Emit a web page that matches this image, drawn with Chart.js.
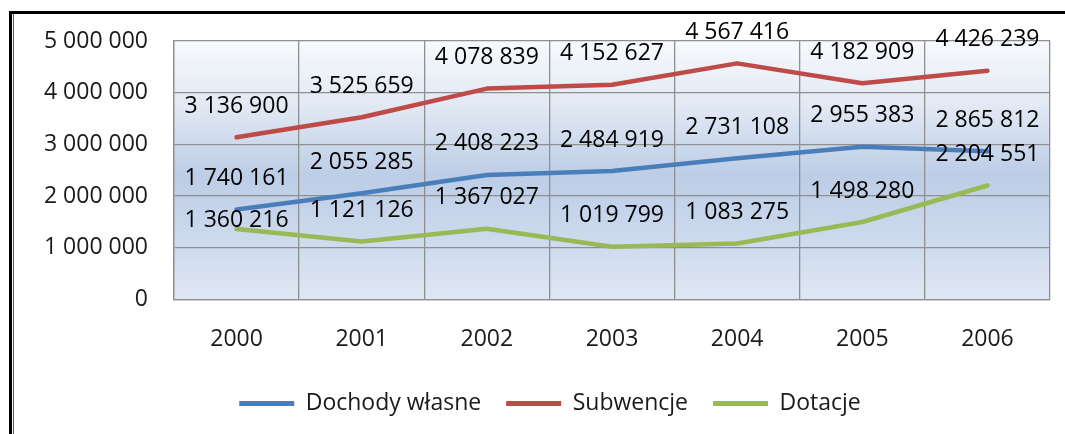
<!DOCTYPE html>
<html>
<head>
<meta charset="utf-8">
<script src="https://cdn.jsdelivr.net/npm/chart.js@4/dist/chart.umd.min.js"></script>
<style>
  html, body { margin: 0; padding: 0; background: #fff; overflow: hidden; }
  #wrap { position: relative; width: 1065px; height: 434px; }
  #frame { position: absolute; left: 9px; top: 11px; width: 1070px; height: 440px;
           border-top: 3px solid #000; border-left: 3px solid #000; box-sizing: border-box; }
  #frame2 { position: absolute; left: 13px; top: 14px; width: 1px; height: 430px; background: #555; }
</style>
</head>
<body>
<div id="wrap">
  <canvas id="chart" width="1065" height="434"></canvas>
  <div id="frame"></div>
  <div id="frame2"></div>
</div>
<script>
const years = ['2000', '2001', '2002', '2003', '2004', '2005', '2006'];
const dochodyWlasne = [1740161, 2055285, 2408223, 2484919, 2731108, 2955383, 2865812];
const subwencje = [3136900, 3525659, 4078839, 4152627, 4567416, 4182909, 4426239];
const dotacje = [1360216, 1121126, 1367027, 1019799, 1083275, 1498280, 2204551];

const FONT = "'Open Sans', 'DejaVu Sans', sans-serif";

// liczby ze spacją jako separatorem tysięcy
function fmt(v) {
    return String(v).replace(/\B(?=(\d{3})+(?!\d))/g, ' ');
}

// tło obszaru wykresu - gradient jak w Excelu
const plotBg = {
    id: 'plotBg',
    beforeDraw(chart) {
        const { ctx, chartArea: a } = chart;
        const g = ctx.createLinearGradient(0, a.top, 0, a.bottom);
        g.addColorStop(0, '#f7f9fc');
        g.addColorStop(0.25, '#e2e9f4');
        g.addColorStop(0.52, '#bccde6');
        g.addColorStop(0.8, '#cfdbee');
        g.addColorStop(1, '#dfe7f3');
        ctx.save();
        ctx.fillStyle = g;
        ctx.fillRect(a.left, a.top, a.right - a.left, a.bottom - a.top);
        ctx.restore();
    }
};

// legenda przesunięta trochę w prawo
const legendShift = {
    id: 'legendShift',
    afterLayout(chart) {
        if (chart.legend) chart.legend.left += 50;
    }
};

// etykiety wartości nad punktami
const valueLabels = {
    id: 'valueLabels',
    afterDatasetsDraw(chart, args, opts) {
        const ctx = chart.ctx;
        ctx.save();
        ctx.font = opts.size + 'px ' + FONT;
        ctx.fillStyle = '#000';
        ctx.textAlign = 'center';
        ctx.textBaseline = 'middle';
        chart.data.datasets.forEach((ds, i) => {
            const meta = chart.getDatasetMeta(i);
            meta.data.forEach((pt, j) => {
                const key = i + '-' + j;
                const dy = opts.nudge[key] !== undefined ? opts.nudge[key] : opts.offset;
                ctx.fillText(fmt(ds.data[j]), pt.x, pt.y - dy);
            });
        });
        ctx.restore();
    }
};

const blue = '#4a7ebb', red = '#be4b48', green = '#98b954';

new Chart(document.getElementById('chart'), {
    type: 'line',
    data: {
        labels: years,
        datasets: [
            { label: 'Dochody własne', data: dochodyWlasne, borderColor: blue, backgroundColor: blue },
            { label: 'Subwencje', data: subwencje, borderColor: red, backgroundColor: red },
            { label: 'Dotacje', data: dotacje, borderColor: green, backgroundColor: green }
        ]
    },
    options: {
        responsive: false,
        animation: false,
        layout: { padding: { left: 0, right: 15, top: 41, bottom: 9 } },
        elements: {
            line: { borderWidth: 4.5, tension: 0, borderCapStyle: 'round', borderJoinStyle: 'round' },
            point: { radius: 0, hoverRadius: 0 }
        },
        scales: {
            x: {
                offset: true,
                grid: { offset: true, color: '#8f8f8f', lineWidth: 1.3, drawTicks: false },
                border: { color: '#8f8f8f', width: 1.3 },
                ticks: { color: '#1a1a1a', font: { family: FONT, size: 23 }, padding: 26 },
                afterFit(scale) { scale.height = scale.height - 12; }
            },
            y: {
                min: 0,
                max: 5000000,
                grid: { color: '#8f8f8f', lineWidth: 1.3, drawTicks: false },
                border: { color: '#8f8f8f', width: 1.3 },
                ticks: {
                    stepSize: 1000000,
                    color: '#1a1a1a',
                    font: { family: FONT, size: 23 },
                    padding: 26,
                    callback: v => fmt(v)
                },
                afterFit(scale) { scale.width = 174; }
            }
        },
        plugins: {
            legend: {
                position: 'bottom',
                labels: {
                    color: '#1a1a1a',
                    font: { family: FONT, size: 23 },
                    boxWidth: 55,
                    boxHeight: 5,
                    padding: 25,
                    generateLabels(chart) {
                        const items = Chart.defaults.plugins.legend.labels.generateLabels(chart);
                        items.forEach(it => { it.lineWidth = 0; it.fillStyle = it.strokeStyle; });
                        return items;
                    }
                }
            },
            tooltip: { enabled: false },
            valueLabels: { size: 23, offset: 31, nudge: { '2-0': 9 } }
        }
    },
    plugins: [plotBg, legendShift, valueLabels]
});
</script>
</body>
</html>
